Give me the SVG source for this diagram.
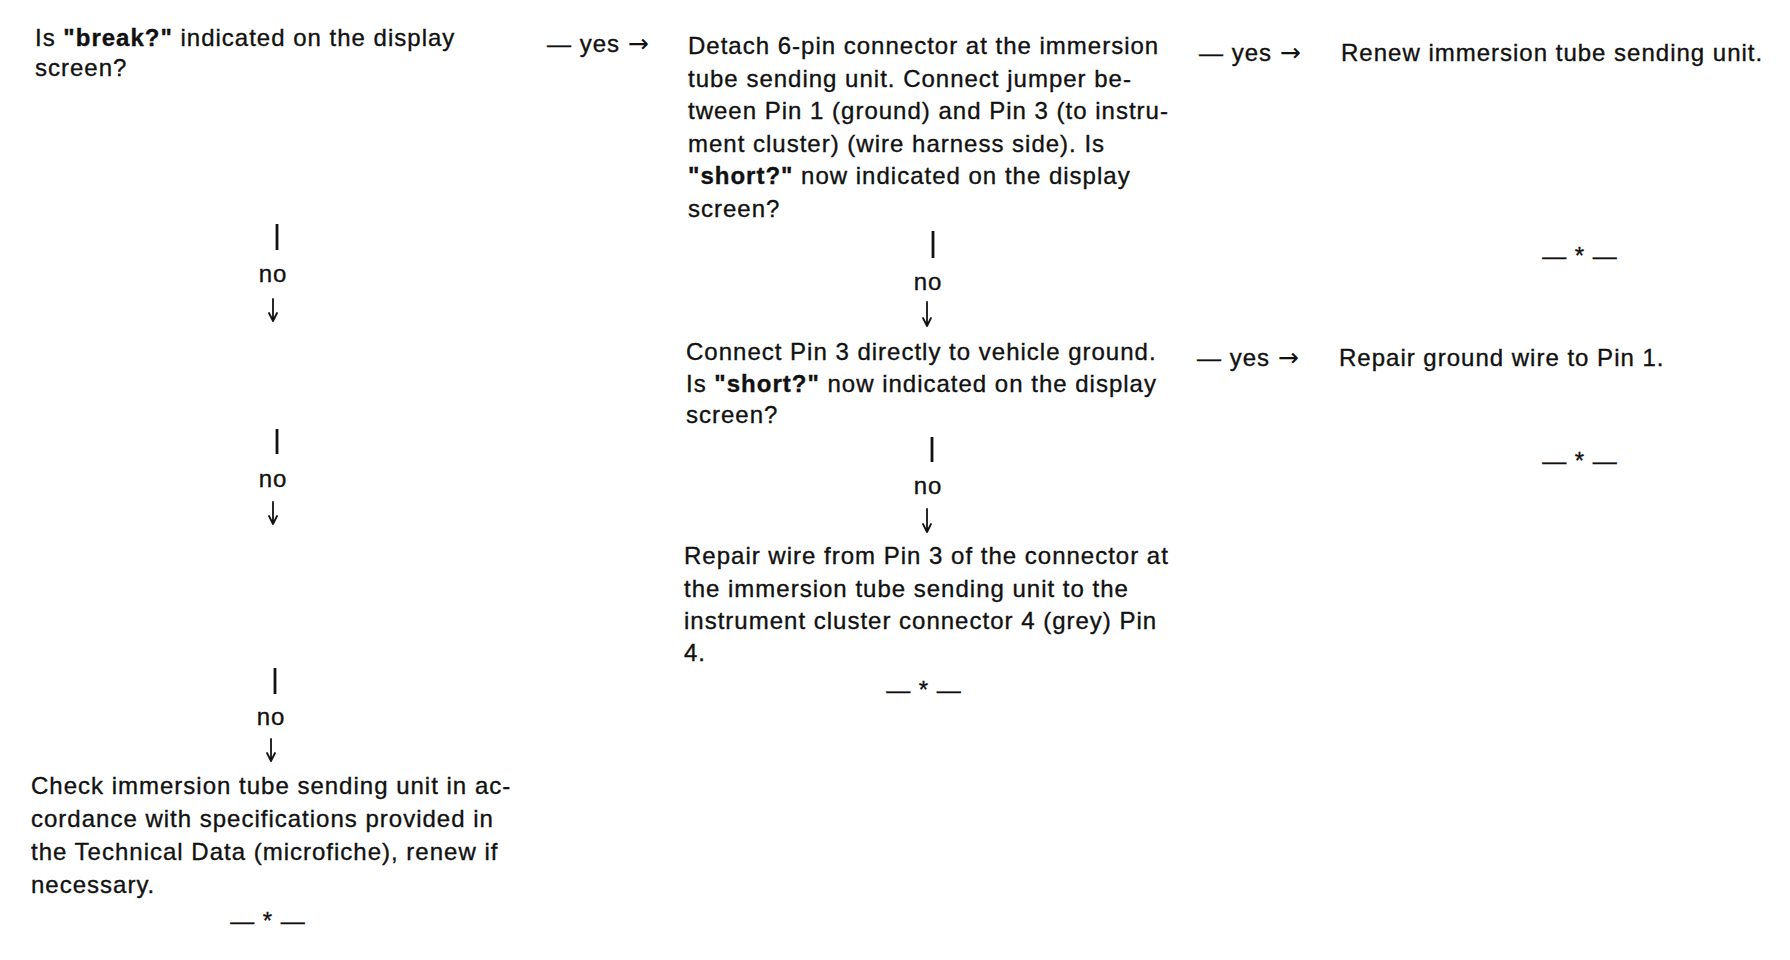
<svg xmlns="http://www.w3.org/2000/svg" width="1790" height="960" viewBox="0 0 1790 960">
<style>
text{font-family:"Liberation Sans",Arial,sans-serif;font-size:24px;letter-spacing:1px;fill:#111;stroke:#111;stroke-width:0.35}
.b{font-weight:bold}
.c{text-anchor:middle}
.ar{font-family:"DejaVu Sans",sans-serif;font-size:25px;letter-spacing:0;stroke-width:0}
.bar{stroke:#111;stroke-width:2.8}
.dn{fill:none;stroke:#111;stroke-width:1.8;stroke-linecap:round;stroke-linejoin:round}
</style>
<rect width="1790" height="960" fill="#fff"/>
<g id="q1">
<text x="35" y="46">Is <tspan class="b">"break?"</tspan> indicated on the display</text>
<text x="35" y="76">screen?</text>
</g>
<g id="q2">
<text x="688" y="54">Detach 6-pin connector at the immersion</text>
<text x="688" y="86.6">tube sending unit. Connect jumper be-</text>
<text x="688" y="119.2">tween Pin 1 (ground) and Pin 3 (to instru-</text>
<text x="688" y="151.8">ment cluster) (wire harness side). Is</text>
<text x="688" y="184.4"><tspan class="b">"short?"</tspan> now indicated on the display</text>
<text x="688" y="217">screen?</text>
</g>
<g id="a1">
<text x="1341" y="61">Renew immersion tube sending unit.</text>
<text class="c" x="1580" y="264">— * —</text>
</g>
<g id="q3">
<text x="686" y="360">Connect Pin 3 directly to vehicle ground.</text>
<text x="686" y="392">Is <tspan class="b">"short?"</tspan> now indicated on the display</text>
<text x="686" y="423">screen?</text>
</g>
<g id="a2">
<text x="1339" y="366">Repair ground wire to Pin 1.</text>
<text class="c" x="1580" y="469">— * —</text>
</g>
<g id="a3">
<text x="684" y="564">Repair wire from Pin 3 of the connector at</text>
<text x="684" y="597">the immersion tube sending unit to the</text>
<text x="684" y="629">instrument cluster connector 4 (grey) Pin</text>
<text x="684" y="661">4.</text>
<text class="c" x="924" y="698">— * —</text>
</g>
<g id="a4">
<text x="31" y="794">Check immersion tube sending unit in ac-</text>
<text x="31" y="827">cordance with specifications provided in</text>
<text x="31" y="860">the Technical Data (microfiche), renew if</text>
<text x="31" y="893">necessary.</text>
<text class="c" x="268" y="929">— * —</text>
</g>
<g id="connectors">
<text x="547" y="52">— yes <tspan class="ar">→</tspan></text>
<text x="1199" y="61">— yes <tspan class="ar">→</tspan></text>
<text x="1197" y="366">— yes <tspan class="ar">→</tspan></text>
<line class="bar" x1="277" y1="224" x2="277" y2="250"/>
<text class="c" x="273" y="282">no</text>
<path class="dn" d="M273,299V321M269,313L273,321L277,313"/>
<line class="bar" x1="277" y1="429" x2="277" y2="454"/>
<text class="c" x="273" y="487">no</text>
<path class="dn" d="M273,502V524M269,516L273,524L277,516"/>
<line class="bar" x1="275" y1="668" x2="275" y2="694"/>
<text class="c" x="271" y="725">no</text>
<path class="dn" d="M271,739V761M267,753L271,761L275,753"/>
<line class="bar" x1="933" y1="231" x2="933" y2="258"/>
<text class="c" x="928" y="290">no</text>
<path class="dn" d="M927,302V326M923,318L927,326L931,318"/>
<line class="bar" x1="932" y1="437" x2="932" y2="462"/>
<text class="c" x="928" y="494">no</text>
<path class="dn" d="M927,509V532M923,524L927,532L931,524"/>
</g>
</svg>
